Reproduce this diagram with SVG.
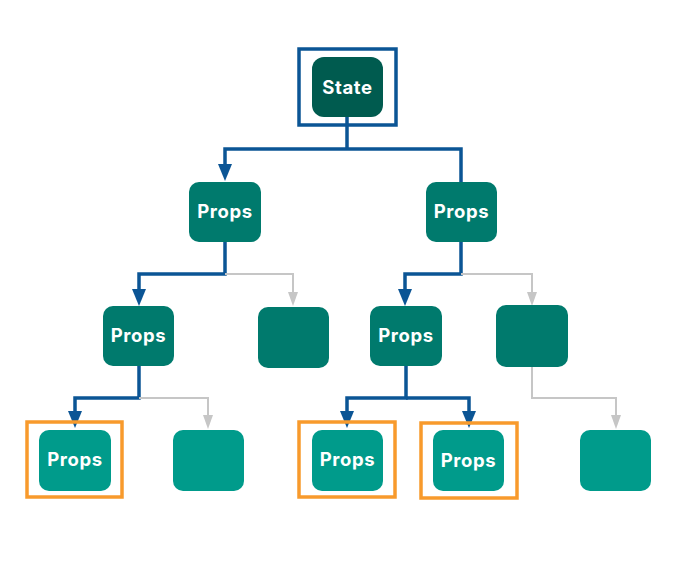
<svg xmlns="http://www.w3.org/2000/svg" width="698" height="584" viewBox="0 0 698 584">
<style>
.st{fill:#005b4f}
.l1{fill:#007a6d}
.l3{fill:#009b8b}
.t{font-family:"Inter","Open Sans",sans-serif;font-weight:700;font-size:18.5px;letter-spacing:0.6px;fill:#ffffff;text-anchor:middle}
.blue{fill:none;stroke:#0b5595;stroke-width:3.5}
.gray{fill:none;stroke:#c6c6c6;stroke-width:2}
.frameB{fill:none;stroke:#0b5595;stroke-width:3.5}
.frameO{fill:none;stroke:#f89a2c;stroke-width:3.5}
.ahb{fill:#0b5595}
.ahg{fill:#c6c6c6}
</style>
<rect width="698" height="584" fill="#ffffff"/>
<g id="connectors">
<path class="blue" d="M347,117 V149"/>
<path class="blue" d="M347,149 H225 V165"/>
<path class="blue" d="M347,149 H461 V182"/>
<path class="blue" d="M225,242 V274 H139 V290"/>
<path class="blue" d="M461,242 V274 H405 V290"/>
<path class="blue" d="M139,366 V398 H75 V412"/>
<path class="blue" d="M406,366 V398 H347 V412"/>
<path class="blue" d="M406,398 H469 V412"/>
<path class="gray" d="M225,274 H293 V294"/>
<path class="gray" d="M461,274 H532 V294"/>
<path class="gray" d="M139,398 H208 V417"/>
<path class="gray" d="M532,367 V398 H616 V417"/>
<path class="ahb" d="M218,164 L232,164 L225,181 Z"/>
<path class="ahb" d="M132,289 L146,289 L139,306 Z"/>
<path class="ahb" d="M398,289 L412,289 L405,306 Z"/>
<path class="ahb" d="M68,411 L82,411 L75,428 Z"/>
<path class="ahb" d="M340,411 L354,411 L347,428 Z"/>
<path class="ahb" d="M462,411 L476,411 L469,428 Z"/>
<path class="ahg" d="M288,292 L298,292 L293,306 Z"/>
<path class="ahg" d="M527,292 L537,292 L532,306 Z"/>
<path class="ahg" d="M203,415 L213,415 L208,429 Z"/>
<path class="ahg" d="M611,415 L621,415 L616,429 Z"/>
</g>
<g id="state">
<rect class="frameB" x="299" y="49" width="97" height="76"/>
<rect class="st" x="312" y="57" width="71" height="60" rx="12"/>
<text class="t" x="347.5" y="93.5">State</text>
</g>
<g id="props-l1-left">
<rect class="l1" x="189" y="182" width="72" height="60" rx="10"/>
<text class="t" x="225" y="218">Props</text>
</g>
<g id="props-l1-right">
<rect class="l1" x="426" y="182" width="71" height="60" rx="10"/>
<text class="t" x="461.5" y="218">Props</text>
</g>
<g id="props-l2-a">
<rect class="l1" x="103" y="306" width="71" height="60" rx="10"/>
<text class="t" x="138.5" y="342">Props</text>
</g>
<g id="blank-l2-b">
<rect class="l1" x="258" y="307" width="71" height="61" rx="10"/>
</g>
<g id="props-l2-c">
<rect class="l1" x="370" y="306" width="72" height="60" rx="10"/>
<text class="t" x="406" y="342">Props</text>
</g>
<g id="blank-l2-d">
<rect class="l1" x="496" y="305" width="72" height="62" rx="10"/>
</g>
<g id="props-l3-a">
<rect class="frameO" x="27" y="422" width="95" height="75"/>
<rect class="l3" x="39" y="430" width="72" height="61" rx="10"/>
<text class="t" x="75" y="466">Props</text>
</g>
<g id="blank-l3-b">
<rect class="l3" x="173" y="430" width="71" height="61" rx="10"/>
</g>
<g id="props-l3-c">
<rect class="frameO" x="299" y="422" width="96" height="75"/>
<rect class="l3" x="312" y="430" width="71" height="61" rx="10"/>
<text class="t" x="347.5" y="466">Props</text>
</g>
<g id="props-l3-d">
<rect class="frameO" x="421" y="423" width="96" height="75"/>
<rect class="l3" x="433" y="430" width="71" height="61" rx="10"/>
<text class="t" x="468.5" y="467">Props</text>
</g>
<g id="blank-l3-e">
<rect class="l3" x="580" y="430" width="71" height="61" rx="10"/>
</g>
</svg>
